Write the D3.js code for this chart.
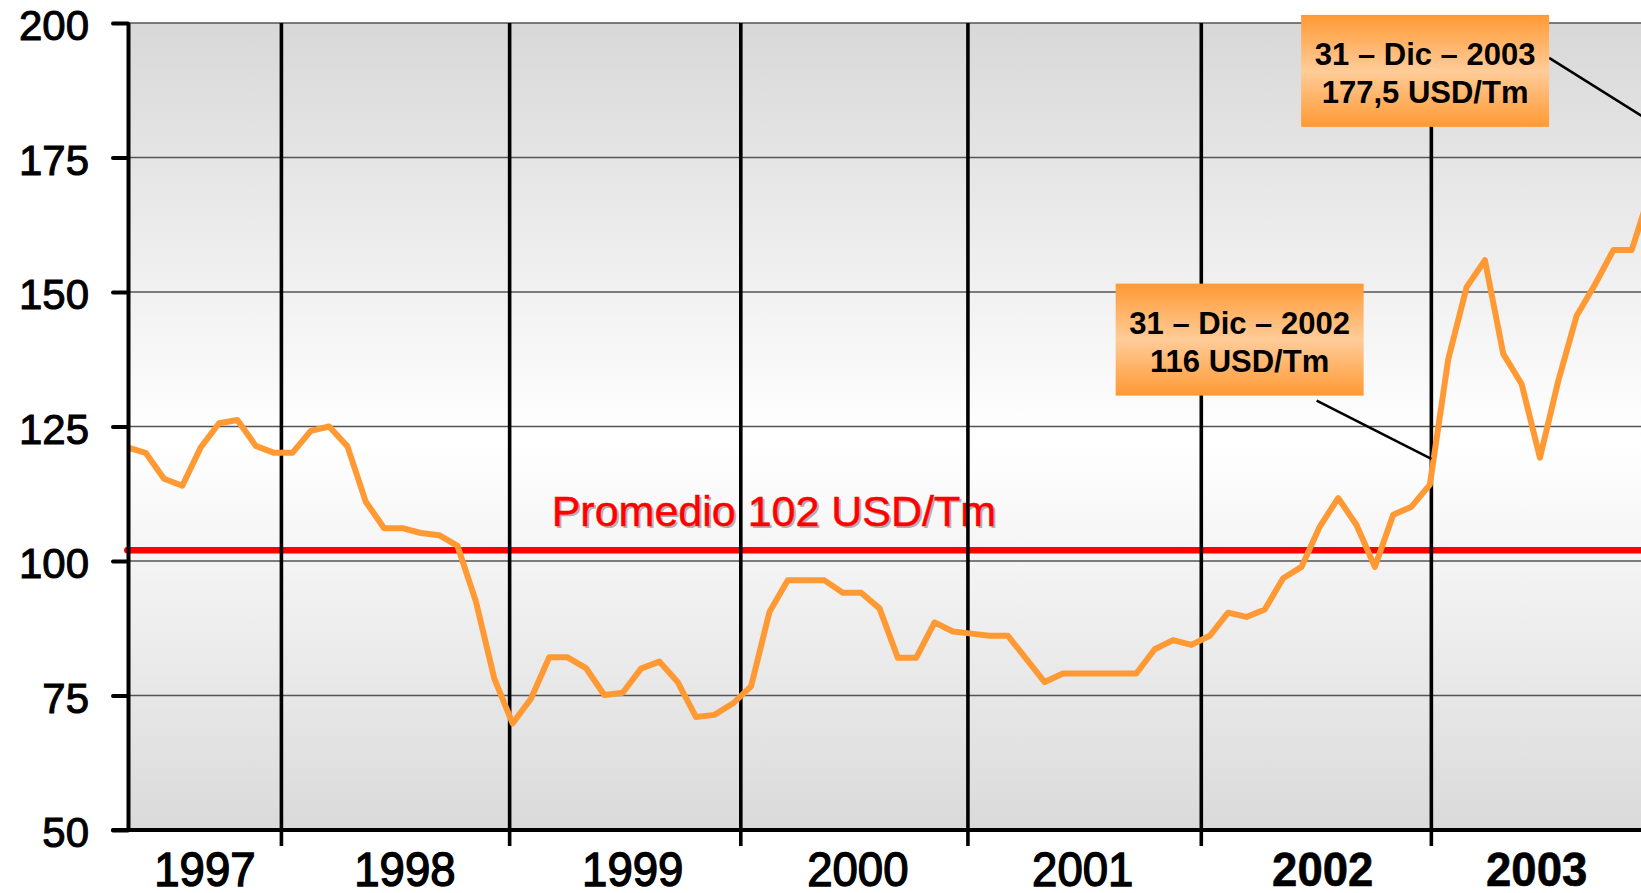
<!DOCTYPE html>
<html>
<head>
<meta charset="utf-8">
<script src="https://cdn.jsdelivr.net/npm/d3@7"></script>
<style>
  body { margin: 0; background: #fff; }
  svg { display: block; }
</style>
</head>
<body>
<div id="chart"></div>
<script>
// price series, one point per period (USD/Tm)
var prices = [121.1, 120.1, 115.3, 114.0, 121.1, 125.6, 126.2, 121.4, 120.1, 120.1,
  124.2, 125.0, 121.3, 111.0, 106.1, 106.1, 105.2, 104.8, 102.8, 92.5,
  78.2, 69.8, 74.4, 82.1, 82.1, 80.1, 75.1, 75.5, 80.0, 81.3,
  77.5, 71.0, 71.4, 73.5, 76.7, 90.5, 96.4, 96.4, 96.4, 94.1,
  94.1, 91.2, 82.0, 82.0, 88.6, 86.9, 86.5, 86.1, 86.1, 81.8,
  77.5, 79.1, 79.1, 79.1, 79.1, 79.1, 83.6, 85.3, 84.4, 86.1,
  90.4, 89.6, 91.0, 96.8, 98.9, 106.4, 111.7, 106.7, 98.9, 108.6,
  110.1, 114.2, 137.5, 150.9, 155.9, 138.5, 132.9, 119.2, 133.5, 145.6,
  151.4, 157.8, 157.8, 168.5, 173.0, 177.5];

var average = 102;
var averageLabel = "Promedio 102 USD/Tm";

var years = ["1997", "1998", "1999", "2000", "2001", "2002", "2003"];
// where each year label sits, in period units
var yearLabelAt = [4.23, 15.13, 27.55, 39.82, 52.08, 65.16, 76.82];
// year separators, in period units
var yearBreaks = [8.40, 20.84, 33.44, 45.82, 58.54, 71.08];

var yTicks = [50, 75, 100, 125, 150, 175, 200];

var notes = [
  {line1: "31 – Dic – 2003", line2: "177,5 USD/Tm", at: 70.74, level: 191.1, target: [85, 177.5], from: [124, -13]},
  {line1: "31 – Dic – 2002", line2: "116 USD/Tm", at: 60.63, level: 141.15, target: [71.08, 119], from: [77, 61]}
];

var width = 1641, height = 893;
var plotTop = 23, plotBottom = 830, plotLeft = 128;
var font = "'Liberation Sans', Arial, sans-serif";

var svg = d3.select("#chart")
  .append("svg")
    .attr("width", width)
    .attr("height", height);

var x = d3.scaleLinear()
    .domain([0, 82])
    .range([127.3, 1631.7]);

var y = d3.scaleLinear()
    .domain([50, 200])
    .range([plotBottom, plotTop]);

var defs = svg.append("defs");

var bg = defs.append("linearGradient")
    .attr("id", "bg").attr("x1", 0).attr("y1", 0).attr("x2", 0).attr("y2", 1);
bg.append("stop").attr("offset", "0%").attr("stop-color", "#d8d8d8");
bg.append("stop").attr("offset", "52%").attr("stop-color", "#ffffff");
bg.append("stop").attr("offset", "100%").attr("stop-color", "#dadada");

var box = defs.append("linearGradient")
    .attr("id", "box").attr("x1", 0).attr("y1", 0).attr("x2", 0).attr("y2", 1);
box.append("stop").attr("offset", "0%").attr("stop-color", "#ff9933");
box.append("stop").attr("offset", "50%").attr("stop-color", "#ffcc99");
box.append("stop").attr("offset", "100%").attr("stop-color", "#ff9933");

defs.append("clipPath").attr("id", "plot")
  .append("rect")
    .attr("x", plotLeft).attr("y", plotTop - 3)
    .attr("width", width - plotLeft).attr("height", plotBottom - plotTop + 3);

// plot background
svg.append("rect")
    .attr("x", plotLeft).attr("y", plotTop)
    .attr("width", width - plotLeft).attr("height", plotBottom - plotTop)
    .attr("fill", "url(#bg)");

// horizontal grid
svg.append("g")
  .selectAll("line")
  .data(yTicks.filter(function(d) { return d > 50; }))
  .enter()
  .append("line")
    .attr("x1", plotLeft).attr("x2", width)
    .attr("y1", function(d) { return y(d); })
    .attr("y2", function(d) { return y(d); })
    .attr("stroke", "#555")
    .attr("stroke-width", 1.4);

// average line + label
svg.append("line")
    .attr("x1", x(0)).attr("x2", width)
    .attr("y1", y(average)).attr("y2", y(average))
    .attr("stroke", "#ff0000")
    .attr("stroke-width", 6.5)
    .attr("stroke-linecap", "round");

var avgText = svg.append("g")
    .attr("transform", "translate(" + x(23.13) + "," + (y(average) - 24) + ")")
    .style("font-family", font)
    .style("font-size", "43px");
avgText.append("text")
    .attr("x", 2).attr("y", 2)
    .attr("fill", "#b0b0b0")
    .text(averageLabel);
avgText.append("text")
    .attr("fill", "#ff0000")
    .attr("stroke", "#ff0000")
    .attr("stroke-width", 0.5)
    .text(averageLabel);

// year separators
svg.append("g")
  .selectAll("line")
  .data(yearBreaks)
  .enter()
  .append("line")
    .attr("x1", function(d) { return x(d); })
    .attr("x2", function(d) { return x(d); })
    .attr("y1", plotTop)
    .attr("y2", plotBottom + 16)
    .attr("stroke", "#000")
    .attr("stroke-width", 3.6);

// price line
var line = d3.line()
    .x(function(d, i) { return x(i); })
    .y(function(d) { return y(d); });

svg.append("path")
    .datum(prices)
    .attr("clip-path", "url(#plot)")
    .attr("fill", "none")
    .attr("stroke", "#ff9933")
    .attr("stroke-width", 6)
    .attr("stroke-linejoin", "round")
    .attr("d", line);

// y axis
var yAxis = svg.append("g")
    .attr("transform", "translate(" + plotLeft + ",0)")
    .call(d3.axisLeft(y).tickValues(yTicks).tickSize(15).tickSizeOuter(0).tickPadding(24));
yAxis.select(".domain").attr("stroke", "#000").attr("stroke-width", 4);
yAxis.selectAll(".tick line").attr("stroke", "#000").attr("stroke-width", 4).attr("stroke-linecap", "round");
yAxis.selectAll(".tick text")
    .attr("dy", "0.4em")
    .attr("fill", "#000")
    .attr("stroke", "#000")
    .attr("stroke-width", 1)
    .style("font-family", font)
    .style("font-size", "42px");

// bottom axis line
svg.append("line")
    .attr("x1", plotLeft - 15).attr("x2", width)
    .attr("y1", plotBottom).attr("y2", plotBottom)
    .attr("stroke", "#000")
    .attr("stroke-width", 4)
    .attr("stroke-linecap", "round");

// year labels
svg.append("g")
  .selectAll("text")
  .data(years)
  .enter()
  .append("text")
    .attr("transform", function(d, i) { return "translate(" + x(yearLabelAt[i]) + ",886) scale(0.93,1)"; })
    .attr("text-anchor", "middle")
    .attr("stroke", "#000")
    .attr("stroke-width", function(d) { return +d >= 2002 ? 0.6 : 1.4; })
    .style("font-family", font)
    .style("font-size", "49px")
    .style("font-weight", function(d) { return +d >= 2002 ? "bold" : "normal"; })
    .text(function(d) { return d; });

// callouts
var bw = 248, bh = 112;
var note = svg.append("g")
  .selectAll("g")
  .data(notes)
  .enter()
  .append("g");

note.append("line")
    .attr("x1", function(d) { return x(d.at) + d.from[0]; })
    .attr("y1", function(d) { return y(d.level) + d.from[1]; })
    .attr("x2", function(d) { return x(d.target[0]); })
    .attr("y2", function(d) { return y(d.target[1]); })
    .attr("stroke", "#000")
    .attr("stroke-width", 2.5);

note.append("rect")
    .attr("x", function(d) { return x(d.at) - bw / 2; })
    .attr("y", function(d) { return y(d.level) - bh / 2; })
    .attr("width", bw)
    .attr("height", bh)
    .attr("fill", "url(#box)");

note.append("text")
    .attr("x", function(d) { return x(d.at); })
    .attr("y", function(d) { return y(d.level) - 6; })
    .attr("text-anchor", "middle")
    .style("font-family", font)
    .style("font-size", "31px")
    .style("font-weight", "bold")
    .text(function(d) { return d.line1; });

note.append("text")
    .attr("x", function(d) { return x(d.at); })
    .attr("y", function(d) { return y(d.level) + 32; })
    .attr("text-anchor", "middle")
    .style("font-family", font)
    .style("font-size", "31px")
    .style("font-weight", "bold")
    .text(function(d) { return d.line2; });
</script>
</body>
</html>
